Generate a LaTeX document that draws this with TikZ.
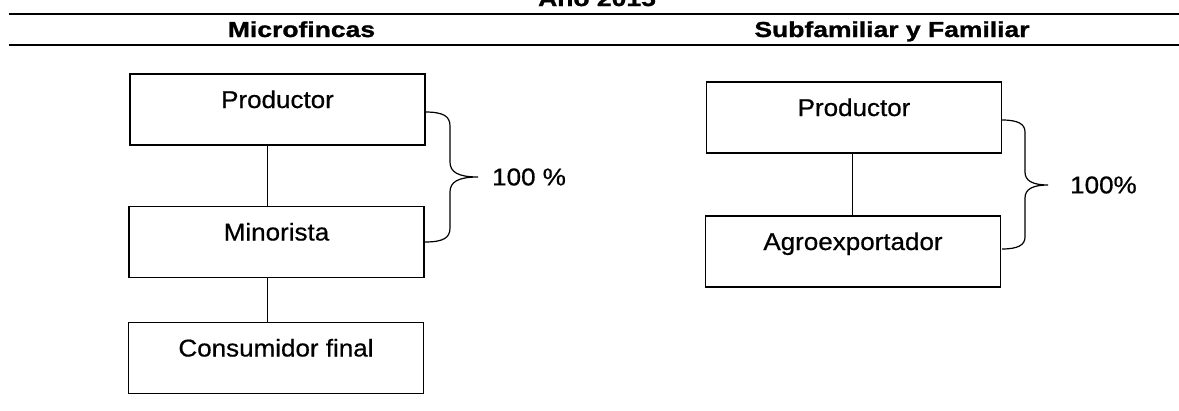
\documentclass[tikz,border=0pt]{standalone}
\usepackage{fontspec}
\newfontfamily\bodyfont[FakeStretch=1.07,FakeBold=0.6]{Liberation Sans}
\newfontfamily\hdrfont[FakeStretch=1.22,FakeBold=1.2]{Liberation Sans Bold}
\usetikzlibrary{calc}
\begin{document}
\begin{tikzpicture}[x=1pt,y=1pt,
  box/.style={draw, line width=1.2pt, minimum width=295pt, minimum height=71pt,
    inner sep=0pt, text height=17pt, text depth=20pt,
    font=\bodyfont\fontsize{24.3}{29}\selectfont},
  link/.style={draw, line width=1pt},
  bracepath/.style={draw, line width=1.2pt},
  pct/.style={anchor=west, inner sep=0pt, font=\bodyfont\fontsize{24.3}{29}\selectfont},
  hdr/.style={anchor=base, inner sep=0pt, font=\hdrfont\fontsize{21.7}{26}\selectfont},
  rule/.style={line width=1.8pt}
]
\clip (0,0) rectangle (1179,-410);
\fill[white] (0,0) rectangle (1179,-410);

% header
\node[hdr] (year) at (597,-6) {Año 2015};
\coordinate (r1a) at (9,-14);
\coordinate (r1b) at (1179,-14);
\coordinate (r2a) at (9,-45);
\coordinate (r2b) at (1179,-45);
\draw[rule] (r1a) -- (r1b);
\draw[rule] (r2a) -- (r2b);
\node[hdr] (hmicro) at (301.5,-37) {Microfincas};
\node[hdr] (hsub) at (892,-37) {Subfamiliar y Familiar};

% left chain
\node[box] (L1) at (277.5,-109.5) {Productor};
\node[box] (L2) at (276.5,-242) {Minorista};
\node[box] (L3) at (276,-358) {Consumidor final};
\draw[link] ([xshift=-10pt]L1.south) -- ([xshift=-10pt]L1.south |- L2.north);
\draw[link] ([xshift=-9.5pt]L2.south) -- ([xshift=-9.5pt]L2.south |- L3.north);

% right chain
\node[box] (R1) at (854,-117.5) {Productor};
\node[box] (R2) at (853,-251.5) {Agroexportador};
\draw[link] ([xshift=-2pt]R1.south) -- ([xshift=-2pt]R1.south |- R2.north);

% left brace
\draw[bracepath] (425,-112) .. controls (443,-112) and (450,-116) .. (450,-126)
  -- (450,-162) .. controls (450,-172) and (458,-177) .. (478,-177)
  .. controls (458,-177) and (450,-182) .. (450,-192)
  -- (450,-228) .. controls (450,-238) and (443,-242) .. (425,-242);
\node[pct] (pL) at (492,-177) {100 \%};

% right brace
\draw[bracepath] (1002,-120) .. controls (1018,-120) and (1025,-124) .. (1025,-132)
  -- (1025,-172) .. controls (1025,-181) and (1033,-185) .. (1048,-185)
  .. controls (1033,-185) and (1025,-189) .. (1025,-198)
  -- (1025,-237) .. controls (1025,-245) and (1018,-249) .. (1002,-249);
\node[pct] (pR) at (1070,-185) {100\%};
\end{tikzpicture}
\end{document}
